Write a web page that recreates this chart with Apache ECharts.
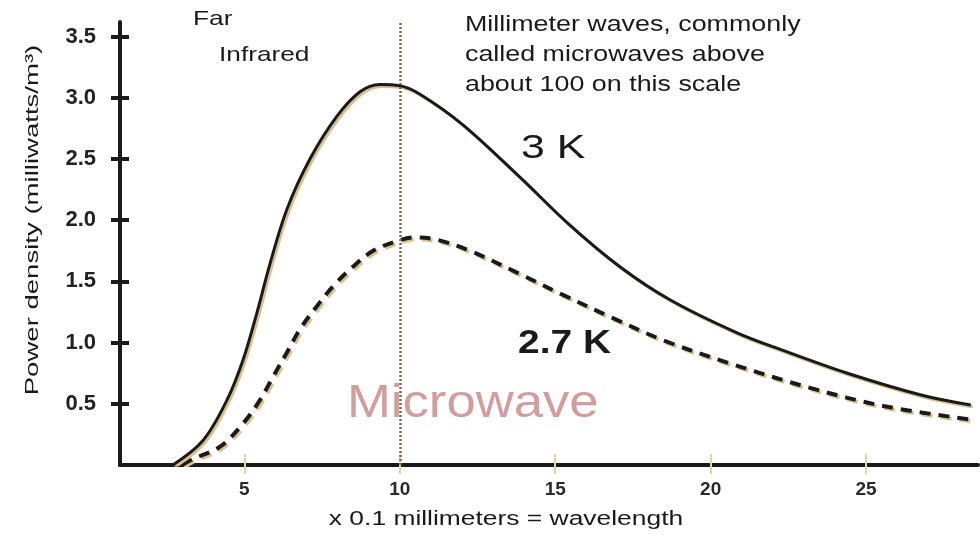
<!DOCTYPE html>
<html>
<head>
<meta charset="utf-8">
<script src="https://cdn.jsdelivr.net/npm/echarts@6/dist/echarts.min.js"></script>
<style>html,body{margin:0;padding:0;background:#fff}#c{width:980px;height:546px}</style>
</head>
<body>
<div id="c"></div>
<script>
// Data
var xTicks = [5, 10, 15, 20, 25];
var yTicks = [0.5, 1.0, 1.5, 2.0, 2.5, 3.0, 3.5];
var curve3K = [
  [2.7, 0.0], [3.67, 0.2], [4.44, 0.53], [4.96, 0.86], [5.41, 1.25], [5.82, 1.64],
  [6.37, 2.09], [7.11, 2.5], [7.98, 2.85], [8.72, 3.05], [9.36, 3.11], [10.0, 3.1],
  [10.65, 3.03], [12.03, 2.78], [13.87, 2.35], [15.47, 1.96], [17.08, 1.62],
  [18.69, 1.35], [20.85, 1.08], [22.4, 0.93], [24.4, 0.75], [26.8, 0.57], [28.37, 0.49]
];
var curve27K = [
  [3.0, 0.0], [3.35, 0.05], [4.22, 0.15], [4.96, 0.34], [5.5, 0.53], [5.92, 0.72],
  [6.37, 0.92], [6.79, 1.11], [7.34, 1.3], [7.85, 1.46], [8.49, 1.62], [9.14, 1.75],
  [9.91, 1.83], [10.5, 1.86], [11.2, 1.84], [12.26, 1.75], [13.87, 1.56], [15.25, 1.39],
  [16.86, 1.2], [18.47, 1.02], [20.62, 0.83], [23.2, 0.63], [25.6, 0.48], [28.4, 0.37]
];
var microwaveBoundary = 10;
var labels = {
  far: 'Far',
  infrared: 'Infrared',
  note: 'Millimeter waves, commonly\ncalled microwaves above\nabout 100 on this scale',
  k3: '3 K',
  k27: '2.7 K',
  microwave: 'Microwave',
  xName: 'x 0.1 millimeters = wavelength',
  yName: 'Power density (milliwatts/m\u00B3)'
};

var ink = '#1a1a1a';
var tan = '#e6d3a3';
var font = '"Liberation Sans", Arial, sans-serif';

function txt(x, y, text, size, opts) {
  opts = opts || {};
  return {
    type: 'text', x: x, y: y, rotation: opts.rotation || 0, z: 10,
    scaleX: opts.sx || 1, scaleY: opts.sy || 1,
    style: {
      text: text, fontSize: size, fontFamily: font,
      fontWeight: opts.weight || 'normal',
      fill: opts.color || ink, lineHeight: opts.lineHeight,
      textAlign: opts.align || 'left', textVerticalAlign: opts.valign || 'top',
      textShadowColor: opts.shadow || tan, textShadowOffsetX: 1, textShadowOffsetY: 2, textShadowBlur: 0
    }
  };
}

var chart = echarts.init(document.getElementById('c'));
var xMin = 1, xMax = 28.6, yMin = 0, yMax = 3.62;
var gridOpt = { left: 120, right: 2, top: 22, bottom: 81 };

chart.setOption({
  animation: false,
  backgroundColor: '#fff',
  grid: gridOpt,
  xAxis: [{
    type: 'value', min: xMin, max: xMax,
    axisLine: { show: true, onZero: false, lineStyle: { color: ink, width: 4 } },
    axisTick: { show: true, inside: false, length: 9, customValues: xTicks, lineStyle: { color: tan, width: 2 } },
    axisLabel: { customValues: xTicks, margin: 15, fontSize: 19, fontWeight: 'bold', fontFamily: font, color: '#2a2a2a',
      textShadowColor: tan, textShadowOffsetX: 1, textShadowOffsetY: 2 },
    splitLine: { show: false }
  }, {
    type: 'value', min: xMin, max: xMax, position: 'bottom',
    axisLine: { show: false },
    axisTick: { show: true, inside: true, length: 11, customValues: xTicks, lineStyle: { color: tan, width: 2 } },
    axisLabel: { show: false },
    splitLine: { show: false }
  }],
  yAxis: [{
    type: 'value', min: yMin, max: yMax,
    axisLine: { show: true, onZero: false, lineStyle: { color: ink, width: 4 } },
    axisTick: { show: true, inside: false, length: 9, customValues: yTicks, lineStyle: { color: ink, width: 4 } },
    axisLabel: { customValues: yTicks, margin: 24, fontSize: 22, fontWeight: 'bold', fontFamily: font, color: '#222',
      formatter: function (v) { return v.toFixed(1); },
      textShadowColor: tan, textShadowOffsetX: 1, textShadowOffsetY: 2 },
    splitLine: { show: false }
  }, {
    type: 'value', min: yMin, max: yMax, position: 'left',
    axisLine: { show: false },
    axisTick: { show: true, inside: true, length: 9, customValues: yTicks, lineStyle: { color: ink, width: 4 } },
    axisLabel: { show: false },
    splitLine: { show: false }
  }],
  series: [{
    name: '3 K', type: 'line', data: curve3K, smooth: 0.35, showSymbol: false,
    lineStyle: { color: ink, width: 3, shadowColor: '#d8c190', shadowOffsetX: 2, shadowOffsetY: 2, shadowBlur: 0 },
    z: 3
  }, {
    name: '2.7 K', type: 'line', data: curve27K, smooth: 0.35, showSymbol: false,
    lineStyle: { color: ink, width: 4, type: [11, 8], shadowColor: '#d8c190', shadowOffsetX: 2, shadowOffsetY: 2, shadowBlur: 0 },
    z: 2,
    markLine: {
      silent: true, symbol: 'none', label: { show: false },
      lineStyle: { color: '#7a6a45', width: 2.5, type: [2, 2] },
      data: [{ xAxis: microwaveBoundary }]
    }
  }],
  graphic: [
    txt(193, 9, labels.far, 21, { sx: 1.25 }),
    txt(219, 45, labels.infrared, 21, { sx: 1.25 }),
    txt(465, 10, labels.note, 22, { lineHeight: 30, sx: 1.22 }),
    txt(521, 132, labels.k3, 33, { sx: 1.3 }),
    txt(518, 327, labels.k27, 33, { weight: 'bold', sx: 1.18 }),
    txt(347, 381, labels.microwave, 47, { color: '#d29d9d', shadow: '#f2dfb3', sx: 1.12 }),
    txt(506, 509, labels.xName, 20, { align: 'center', sx: 1.32 }),
    txt(33, 220, labels.yName, 19, { rotation: Math.PI / 2, align: 'center', valign: 'middle', sx: 1.45 })
  ]
});
</script>
</body>
</html>
